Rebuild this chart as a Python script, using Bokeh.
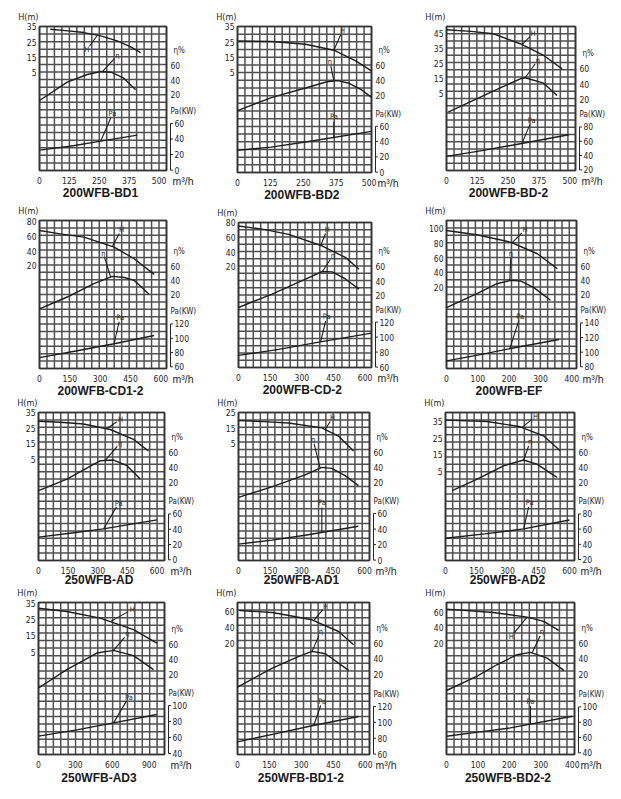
import numpy as np
from bokeh.plotting import figure
from bokeh.models import Range1d
from bokeh.layouts import column, row
from bokeh.embed import file_html
from bokeh.resources import INLINE
from bokeh.core.properties import value

# ---------------- data ----------------
TITLES = ["200WFB-BD1", "200WFB-BD2", "200WFB-BD-2",
          "200WFB-CD1-2", "200WFB-CD-2", "200WFB-EF",
          "250WFB-AD", "250WFB-AD1", "250WFB-AD2",
          "250WFB-AD3", "250WFB-BD1-2", "250WFB-BD2-2"]

X_TICKS = [[0, 125, 250, 375, 500], [0, 125, 250, 375, 500], [0, 125, 250, 375, 500],
           [0, 150, 300, 450, 600], [0, 150, 300, 450, 600], [0, 100, 200, 300, 400],
           [0, 150, 300, 450, 600], [0, 150, 300, 450, 600], [0, 150, 300, 450, 600],
           [0, 300, 600, 900], [0, 150, 300, 450, 600], [0, 100, 200, 300, 400]]
X_MAX = [531, 509, 523, 628, 630, 415, 638, 624, 624, 1024, 620, 407]
N_COLS = [17, 18, 17, 17, 18, 18, 17, 18, 18, 17, 18, 17]
N_ROWS = [19, 19, 20, 20, 20, 20, 20, 20, 20, 20, 20, 20]

H_TICKS = [[35, 25, 15, 5], [35, 25, 15, 5], [45, 35, 25, 15, 5],
           [80, 60, 40, 20], [80, 60, 40, 20], [100, 80, 60, 40, 20],
           [35, 25, 15, 5], [25, 15, 5], [35, 25, 15, 5],
           [35, 25, 15, 5], [60, 40, 20], [60, 40, 20]]
ETA_TICKS = [60, 40, 20]
PA_TICKS = [[60, 40, 20, 0], [60, 40, 20, 0], [80, 60, 40, 20],
            [120, 100, 80, 60], [120, 100, 80, 60], [140, 120, 100, 80],
            [60, 40, 20, 0], [60, 40, 20, 0], [80, 60, 40, 20],
            [100, 80, 60, 40], [120, 100, 80, 60], [100, 80, 60, 40]]

# value of each scale at the bottom and top edge of the grid
H_RANGE = [(-59.6, 35.3), (-60.7, 35.3), (-47.1, 49.9), (-119.4, 81.4), (-117.7, 80.3), (-89.8, 111.3),
           (-60.4, 35.3), (-70.7, 25.3), (-48.6, 40.4), (-57.9, 35.4), (-121.0, 71.4), (-125.7, 73.0)]
ETA_RANGE = [(-83.2, 113.2), (-82.2, 112.0), (-72.6, 115.2), (-83.3, 123.7), (-77.7, 120.0), (-83.3, 123.7),
             (-84.4, 113.3), (-84.4, 113.3), (-84.4, 113.3), (-84.3, 114.3), (-81.0, 111.4), (-81.0, 111.4)]
PA_RANGE = [(-0.5, 184.6), (-0.5, 190.9), (19.1, 220.6), (57.7, 264.6), (59.5, 252.8), (77.7, 280.0),
            (-0.9, 192.6), (-0.5, 190.2), (18.7, 213.6), (38.75, 229.0), (59.5, 251.2), (37.8, 236.5)]

# 200WFB-BD1
Q_H_1 = [45, 120, 186, 256, 325, 381, 423]
H_1 = [33.5, 32.4, 31.3, 29.1, 25.8, 21.9, 18.1]
Q_ETA_1 = [0, 116, 200, 256, 300, 350, 402]
ETA_1 = [12.3, 37.3, 47.7, 51.8, 50.9, 43.2, 26.8]
Q_PA_1 = [0, 128, 256, 409]
PA_1 = [25.7, 30.6, 37.3, 45.0]
# 200WFB-BD2
Q_H_2 = [0, 131, 258, 366, 449, 509]
H_2 = [25.8, 25.4, 23.6, 19.7, 12.7, 6.1]
Q_ETA_2 = [0, 131, 258, 340, 380, 424, 470, 509]
ETA_2 = [0, 17.8, 30.2, 38.5, 40.0, 36.5, 28.0, 17.8]
Q_PA_2 = [0, 128, 258, 509]
PA_2 = [28.5, 32.8, 39.4, 53.4]
# 200WFB-BD-2
Q_H_3 = [0, 100, 190, 299, 394, 469]
H_3 = [47.7, 46.6, 45.0, 38.3, 30.4, 21.4]
Q_ETA_3 = [7, 122, 220, 299, 319, 394, 448]
ETA_3 = [3.5, 20.9, 35.4, 47.0, 48.3, 41.3, 25.2]
Q_PA_3 = [0, 150, 299, 496]
PA_3 = [38.8, 47.2, 56.6, 69.2]
# 200WFB-CD1-2
Q_H_4 = [0, 110, 220, 369, 468, 567]
H_4 = [67.8, 62.9, 58.8, 45.3, 29.5, 8.3]
Q_ETA_4 = [0, 137, 269, 360, 420, 468, 542]
ETA_4 = [0, 16.7, 35.3, 45.6, 44.0, 40.0, 20.5]
Q_PA_4 = [0, 180, 369, 567]
PA_4 = [72.9, 82.2, 92.3, 103.8]
# 200WFB-CD-2
Q_H_5 = [0, 120, 238, 397, 508, 571]
H_5 = [75.5, 70.9, 64.1, 48.2, 32.3, 16.4]
Q_ETA_5 = [0, 159, 317, 397, 444, 508, 571]
ETA_5 = [4.1, 22.3, 42.7, 53.2, 52.7, 42.7, 29.1]
Q_PA_5 = [0, 190, 381, 630]
PA_5 = [75.6, 83.6, 93.3, 105.3]
# 200WFB-EF
Q_H_6 = [0, 97, 204, 290, 354]
H_6 = [97.7, 91.9, 81.9, 66.1, 45.8]
Q_ETA_6 = [0, 97, 161, 204, 236, 279, 332]
ETA_6 = [1.9, 21.4, 35.3, 40.0, 39.1, 29.8, 12.1]
Q_PA_6 = [0, 100, 204, 359]
PA_6 = [88.2, 95.9, 105.0, 117.3]
# 250WFB-AD
Q_H_7 = [0, 110, 228, 363, 481, 557]
H_7 = [29.6, 29.0, 27.9, 24.3, 17.9, 10.4]
Q_ETA_7 = [0, 144, 313, 380, 448, 515]
ETA_7 = [8.9, 24.4, 48.9, 49.8, 42.2, 24.4]
Q_PA_7 = [0, 160, 329, 600]
PA_7 = [29.6, 34.8, 40.4, 52.2]
# 250WFB-AD1
Q_H_8 = [0, 120, 238, 397, 476, 548]
H_8 = [20.0, 19.4, 18.5, 15.3, 10.0, 0.3]
Q_ETA_8 = [0, 159, 317, 397, 444, 508, 571]
ETA_8 = [0, 14.0, 30.0, 40.0, 38.7, 29.0, 15.6]
Q_PA_8 = [0, 160, 317, 571]
PA_8 = [20.6, 25.7, 32.0, 43.7]
# 250WFB-AD2
Q_H_9 = [0, 201, 362, 474, 555]
H_9 = [35.8, 35.0, 31.8, 26.4, 17.4]
Q_ETA_9 = [32, 153, 281, 378, 442, 539]
ETA_9 = [9.0, 24.4, 42.0, 49.8, 44.4, 26.7]
Q_PA_9 = [0, 190, 378, 600]
PA_9 = [48.0, 53.7, 60.3, 72.0]
# 250WFB-AD3
Q_H_10 = [0, 230, 501, 772, 962]
H_10 = [31.9, 29.9, 25.8, 18.7, 10.5]
Q_ETA_10 = [0, 230, 474, 610, 772, 935]
ETA_10 = [2.6, 26.5, 48.3, 51.7, 44.8, 26.5]
Q_PA_10 = [0, 300, 610, 962]
PA_10 = [61.7, 69.2, 78.3, 88.8]
# 250WFB-BD1-2
Q_H_11 = [8, 164, 350, 475, 545]
H_11 = [61.3, 58.7, 49.5, 34.7, 17.9]
Q_ETA_11 = [0, 164, 288, 350, 413, 522]
ETA_11 = [4.4, 28.4, 43.2, 49.5, 46.5, 25.5]
Q_PA_11 = [0, 170, 350, 569]
PA_11 = [75.5, 85.2, 95.7, 107.4]
# 250WFB-BD2-2
Q_H_12 = [0, 149, 256, 309, 357]
H_12 = [64.3, 60.0, 53.9, 48.3, 36.5]
Q_ETA_12 = [0, 96, 160, 224, 267, 320, 373]
ETA_12 = [0, 17.9, 32.6, 45.3, 48.2, 41.0, 25.5]
Q_PA_12 = [0, 100, 203, 400]
PA_12 = [61.7, 67.0, 72.6, 87.8]

Q_H = [Q_H_1, Q_H_2, Q_H_3, Q_H_4, Q_H_5, Q_H_6, Q_H_7, Q_H_8, Q_H_9, Q_H_10, Q_H_11, Q_H_12]
H = [H_1, H_2, H_3, H_4, H_5, H_6, H_7, H_8, H_9, H_10, H_11, H_12]
Q_ETA = [Q_ETA_1, Q_ETA_2, Q_ETA_3, Q_ETA_4, Q_ETA_5, Q_ETA_6, Q_ETA_7, Q_ETA_8, Q_ETA_9, Q_ETA_10, Q_ETA_11, Q_ETA_12]
ETA = [ETA_1, ETA_2, ETA_3, ETA_4, ETA_5, ETA_6, ETA_7, ETA_8, ETA_9, ETA_10, ETA_11, ETA_12]
Q_PA = [Q_PA_1, Q_PA_2, Q_PA_3, Q_PA_4, Q_PA_5, Q_PA_6, Q_PA_7, Q_PA_8, Q_PA_9, Q_PA_10, Q_PA_11, Q_PA_12]
PA = [PA_1, PA_2, PA_3, PA_4, PA_5, PA_6, PA_7, PA_8, PA_9, PA_10, PA_11, PA_12]

# callouts: (curve, text, Q of anchor on the curve, leader dx px, leader dy px (up))
CALLOUTS = [
    [("H", "H", 242, -8, -11), ("E", "η", 263, 12, 13), ("P", "Pa", 256, 10, 23)],
    [("H", "H", 366, 7, 16), ("E", "η", 366, -3, 15), ("P", "Pa", 366, 0, 16)],
    [("H", "H", 306, 8, 8), ("E", "η", 319, 10, 14), ("P", "Pa", 306, 8, 19)],
    [("H", "H", 360, 7, 13), ("E", "η", 352, -6, 19), ("P", "Pa", 369, 5, 22)],
    [("H", "H", 389, 5, 12), ("E", "η", 397, 8, 12), ("P", "Pa", 389, 5, 21)],
    [("H", "H", 209, 10, 10), ("E", "η", 202, 1, 23), ("P", "Pa", 202, 9, 28)],
    [("H", "H", 346, 10, 7), ("E", "η", 338, 12, 14), ("P", "Pa", 329, 13, 22)],
    [("H", "H", 413, 5, 8), ("E", "η", 389, -6, 24), ("P", "Pa", 397, 0, 25)],
    [("H", "H", 370, 10, 8), ("E", "η", 378, 5, 14), ("P", "Pa", 378, 5, 22)],
    [("H", "H", 583, 18, 10), ("E", "η", 610, 11, 13), ("P", "Pa", 610, 13, 22)],
    [("H", "H", 358, 9, 11), ("E", "η", 350, 7, 16), ("P", "Pa", 358, 7, 20)],
    [("H", "H", 256, -13, -16), ("E", "η", 272, 8, 17), ("P", "Pa", 267, 0, 18)],
]

# ---------------- layout / style ----------------
# (figure width, height, grid margin left, right, top, bottom) in px
LAYOUT = [
    (205, 200, 39, 39, 26, 30), (209, 200, 32, 43, 26, 28), (199, 200, 32, 38, 26, 30),
    (205, 196, 39, 39, 20, 28), (209, 196, 33, 43, 22, 29), (199, 196, 32, 37, 20, 28),
    (205, 192, 38, 41, 16, 28), (209, 192, 33, 45, 16, 28), (199, 192, 31, 39, 16, 28),
    (205, 202, 38, 41, 14, 36), (209, 202, 32, 45, 14, 36), (199, 202, 32, 39, 14, 36),
]
TITLE_DY = [22, 22, 22, 22, 22, 22, 19, 19, 19, 23, 23, 23]

FONT = "DejaVu Sans Condensed, Liberation Sans, sans-serif"
TFONT = "Liberation Sans, Arial, sans-serif"
TXT = "#262626"
GRID = "#505050"
CURVE = "#1e1e1e"


def ext(lo, hi, n_px, m_lo, m_hi):
    u = (hi - lo) / n_px
    return Range1d(lo - m_lo * u, hi + m_hi * u)


def txt(p, x, y, s, rname="default", size="8.5px", align="left", base="middle",
        dx=0, dy=0, font=FONT, style="normal", color=TXT):
    p.text(x=x, y=y, text=s, y_range_name=rname, x_offset=dx, y_offset=dy,
           text_align=align, text_baseline=base, text_font=value(font),
           text_font_size=size, text_font_style=style, text_color=color)


def make_panel(i):
    w, h, ml, mr, mt, mb = LAYOUT[i]
    fw, fh = w - ml - mr, h - mt - mb
    xmax = X_MAX[i]
    hlo, hhi = H_RANGE[i]
    p = figure(width=w, height=h, x_range=ext(0, xmax, fw, ml, mr), y_range=ext(hlo, hhi, fh, mb, mt),
               output_backend="svg", toolbar_location=None, x_axis_location=None, y_axis_location=None,
               min_border=0, outline_line_color=None, background_fill_color="white",
               border_fill_color="white")
    p.xgrid.visible = False
    p.ygrid.visible = False
    p.extra_y_ranges = {"eta": ext(*ETA_RANGE[i], fh, mb, mt), "pa": ext(*PA_RANGE[i], fh, mb, mt)}
    ux = xmax / fw

    # square grid
    xs = np.linspace(0, xmax, N_COLS[i] + 1)
    ys = np.linspace(hlo, hhi, N_ROWS[i] + 1)
    p.segment(x0=xs, y0=[hlo] * len(xs), x1=xs, y1=[hhi] * len(xs), line_color=GRID, line_width=1.5)
    p.segment(x0=[0] * len(ys), y0=ys, x1=[xmax] * len(ys), y1=ys, line_color=GRID, line_width=1.5)
    p.quad(left=[0], right=[xmax], bottom=[hlo], top=[hhi], fill_color=None,
           line_color="#333333", line_width=1.7)

    # tick labels
    xt = X_TICKS[i]
    txt(p, xt, [hlo] * len(xt), [str(v) for v in xt], align="center", dy=10)
    ht = H_TICKS[i]
    txt(p, [0] * len(ht), ht, [str(v) for v in ht], align="right", dx=-3)
    txt(p, [xmax] * len(ETA_TICKS), ETA_TICKS, [str(v) for v in ETA_TICKS], rname="eta", dx=4)
    pt = PA_TICKS[i]
    txt(p, [xmax] * len(pt), pt, [str(v) for v in pt], rname="pa", dx=8)
    xl = xmax + 4 * ux
    p.segment(x0=[xl], y0=[min(pt)], x1=[xl], y1=[max(pt)], y_range_name="pa", line_color=TXT, line_width=1)
    p.segment(x0=[xl] * len(pt), y0=pt, x1=[xl + 2.5 * ux] * len(pt), y1=pt, y_range_name="pa",
              line_color=TXT, line_width=1)

    # curves
    p.line(Q_H[i], H[i], line_color=CURVE, line_width=1.4)
    p.line(Q_ETA[i], ETA[i], y_range_name="eta", line_color=CURVE, line_width=1.4)
    p.line(Q_PA[i], PA[i], y_range_name="pa", line_color=CURVE, line_width=1.4)

    # callouts
    curves = {"H": (Q_H[i], H[i], "default", H_RANGE[i]),
              "E": (Q_ETA[i], ETA[i], "eta", ETA_RANGE[i]),
              "P": (Q_PA[i], PA[i], "pa", PA_RANGE[i])}
    for key, s, qa, dx, dy in CALLOUTS[i]:
        qs, vs, rname, rng = curves[key]
        uy = (rng[1] - rng[0]) / fh
        va = float(np.interp(qa, qs, vs))
        x1, y1 = qa + dx * ux, va + dy * uy
        n = float(np.hypot(dx, dy))
        p.segment(x0=[qa], y0=[va], x1=[x1], y1=[y1], y_range_name=rname, line_color=CURVE, line_width=1.1)
        txt(p, [x1 + dx / n * 4.5 * ux], [y1 + dy / n * 4.5 * uy], [s], rname=rname,
            size="7.5px", align="center")

    # axis titles and panel title
    txt(p, [0], [hhi], ["H(m)"], size="9px", align="right", base="bottom", dx=-1, dy=-5)
    txt(p, [xmax], [max(ETA_TICKS)], ["η%"], rname="eta", size="8px", dx=7, dy=-15)
    txt(p, [xmax], [max(pt)], ["Pa(KW)"], rname="pa", size="8px", dx=4, dy=-12)
    txt(p, [xmax], [hlo], ["m³/h"], size="10.5px", dx=6, dy=10, font=TFONT)
    txt(p, [xmax * 0.48], [hlo], [TITLES[i]], size="12px", align="center", dy=TITLE_DY[i],
        font=TFONT, style="bold", color="#1a1a1a")
    return p


panels = [make_panel(i) for i in range(12)]
layout = column(row(*panels[0:3]), row(*panels[3:6]), row(*panels[6:9]), row(*panels[9:12]))
open("out.html", "w").write(file_html(layout, INLINE))
